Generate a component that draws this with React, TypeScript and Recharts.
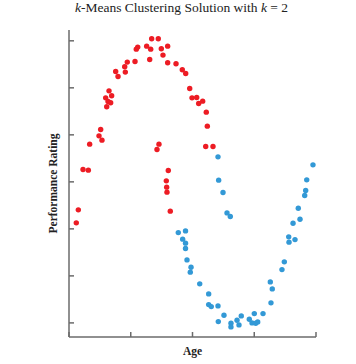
import { ScatterChart, Scatter, XAxis, YAxis } from 'recharts';

// cluster 1 (red) - age / rating
const redAge = [
  0.118, 0.151, 0.227, 0.313, 0.335, 0.486, 0.513, 0.534, 0.611, 0.632,
  0.594, 0.675, 0.691, 0.648, 0.756, 0.794, 0.902, 0.912, 0.944, 1.069,
  1.09, 1.113, 1.258, 1.323, 1.339, 1.446, 1.307, 1.495, 1.522, 1.598,
  1.598, 1.733, 1.835, 1.89, 1.955, 1.992, 2.068, 2.1, 2.165, 2.223,
  2.24, 2.214, 2.332, 1.457, 1.425, 1.608, 1.576, 1.582, 1.587, 1.64,
];
const redRating = [
  3.128, 3.404, 4.262, 4.249, 4.802, 4.979, 5.113, 4.887, 5.596, 5.709,
  5.787, 5.681, 5.83, 5.936, 6.347, 6.24, 6.447, 6.334, 6.547, 6.56,
  6.823, 6.866, 6.887, 6.823, 7.043, 7.043, 6.602, 6.83, 6.696, 6.887,
  6.532, 6.511, 6.383, 6.304, 5.985, 5.787, 5.794, 5.666, 5.717, 5.483,
  5.185, 4.751, 4.751, 4.802, 4.687, 4.24, 4.021, 3.887, 3.781, 3.377,
];

// cluster 2 (blue)
const blueAge = [
  2.413, 2.424, 2.494, 2.559, 2.612, 1.77, 1.887, 1.841, 1.887, 1.887,
  1.911, 1.976, 1.964, 2.117, 2.262, 2.262, 2.304, 2.413, 2.51, 2.418,
  2.623, 2.623, 2.721, 2.753, 2.79, 2.92, 2.964, 3.001, 3.024, 3.056,
  3.142, 3.271, 3.292, 3.26, 3.449, 3.487, 3.558, 3.563, 3.66, 3.628,
  3.741, 3.713, 3.817, 3.833, 3.85, 3.951,
];
const blueRating = [
  4.532, 4.036, 3.772, 3.34, 3.262, 2.921, 2.957, 2.781, 2.696, 2.581,
  2.34, 2.185, 2.079, 1.83, 1.617, 1.389, 1.347, 1.362, 1.164, 1.028,
  0.994, 0.915, 1.057, 0.957, 1.149, 1.079, 1.0, 1.198, 0.994, 1.021,
  1.198, 1.426, 1.723, 1.872, 2.134, 2.298, 2.83, 2.717, 2.772, 3.121,
  3.206, 3.44, 3.709, 3.815, 4.043, 4.362,
];

const xTicks = [0, 1, 2, 3, 4];
const yTicks = [1, 2, 3, 4, 5, 6, 7];

const redData = redAge.map((age, i) => ({ age, rating: redRating[i] }));
const blueData = blueAge.map((age, i) => ({ age, rating: blueRating[i] }));

const AXIS = '#6b6b6b';
const FONT = '"Liberation Serif", "DejaVu Serif", serif';

// ticks point inward from the axis line
const xTick = (p: any) => <line x1={p.x} x2={p.x} y1={p.y} y2={p.y - 5} stroke={AXIS} strokeWidth={1.5} />;
const yTick = (p: any) => <line x1={p.x} x2={p.x + 5} y1={p.y} y2={p.y} stroke={AXIS} strokeWidth={1.5} />;

const dot = (color: string) => (p: any) => <circle cx={p.cx} cy={p.cy} r={2.7} fill={color} />;

export default function App() {
  return (
    <div style={{ position: 'absolute', left: 0, top: 0, width: 356, height: 364, background: '#fff', fontFamily: FONT }}>
      <div style={{ position: 'absolute', left: 0, top: 0, width: 363, textAlign: 'center', fontSize: 13.5, lineHeight: '16px', color: '#222' }}>
        <i>k</i>-Means Clustering Solution with <i>k</i> = 2
      </div>
      <ScatterChart width={356} height={364} margin={{ top: 30, right: 40, bottom: 0, left: 37 }} style={{ fontFamily: FONT }}>
        <XAxis
          type="number"
          dataKey="age"
          domain={[0, 4]}
          ticks={xTicks}
          tick={xTick}
          tickLine={false}
          tickSize={0}
          tickMargin={0}
          height={27}
          stroke={AXIS}
          strokeWidth={1.5}
          label={{ value: 'Age', position: 'insideBottom', offset: 9, fill: '#222', fontSize: 11.5, fontWeight: 'bold' }}
        />
        <YAxis
          type="number"
          dataKey="rating"
          domain={[0.7, 7.23]}
          allowDataOverflow
          ticks={yTicks}
          tick={yTick}
          tickLine={false}
          tickSize={0}
          tickMargin={0}
          width={32}
          stroke={AXIS}
          strokeWidth={1.5}
          label={{ value: 'Performance Rating', position: 'center', angle: -90, fill: '#222', fontSize: 11.5, fontWeight: 'bold' }}
        />
        <Scatter data={redData} shape={dot('#ED1C24')} isAnimationActive={false} />
        <Scatter data={blueData} shape={dot('#3399D6')} isAnimationActive={false} />
      </ScatterChart>
    </div>
  );
}
